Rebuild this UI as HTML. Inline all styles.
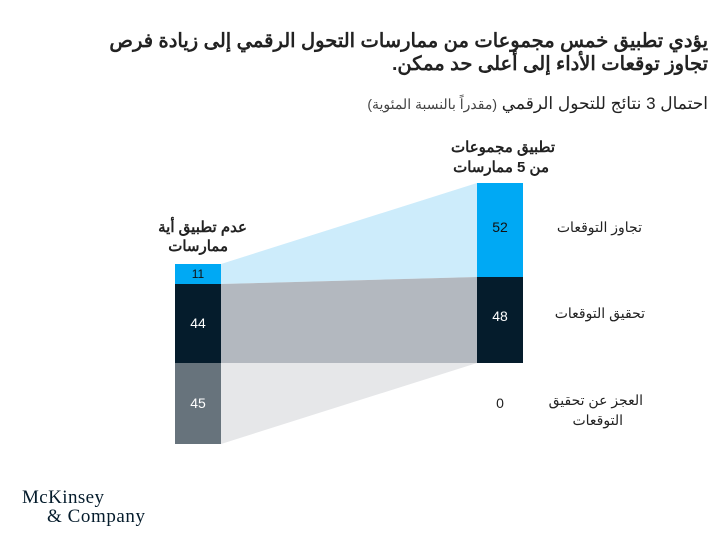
<!DOCTYPE html>
<html><head><meta charset="utf-8"><style>
body{margin:0;width:723px;height:540px;background:#fff;overflow:hidden;font-family:"Liberation Sans","Noto Sans CJK SC",sans-serif;}
svg text{font-family:"Liberation Sans","Noto Sans CJK SC",sans-serif;}
</style></head><body>
<svg width="723" height="540" xmlns="http://www.w3.org/2000/svg">
<text x="708" y="47" text-anchor="start" font-size="19.5" font-weight="bold" fill="#222" direction="rtl">يؤدي تطبيق خمس مجموعات من ممارسات التحول الرقمي إلى زيادة فرص</text>
<text x="708" y="70" text-anchor="start" font-size="19.5" font-weight="bold" fill="#222" direction="rtl">تجاوز توقعات الأداء إلى أعلى حد ممكن.</text>
<text x="708" y="109" text-anchor="start" font-size="17" fill="#222" direction="rtl">احتمال 3 نتائج للتحول الرقمي <tspan font-size="14" fill="#444">(مقدراً بالنسبة المئوية)</tspan></text>
<polygon points="221,264 477,183 477,277 221,284" fill="#cdecfb"/>
<polygon points="221,284 477,277 477,363 221,363" fill="#b3b8bf"/>
<polygon points="221,363 477,363 221,444" fill="#e6e7e9"/>
<rect x="175" y="264" width="46" height="20" fill="#00a9f4"/>
<rect x="175" y="284" width="46" height="79" fill="#051c2c"/>
<rect x="175" y="363" width="46" height="81" fill="#67737c"/>
<rect x="477" y="183" width="46" height="94" fill="#00a9f4"/>
<rect x="477" y="277" width="46" height="86" fill="#051c2c"/>
<text x="198" y="278" text-anchor="middle" font-size="12" fill="#111">11</text>
<text x="198" y="328" text-anchor="middle" font-size="14" fill="#fff">44</text>
<text x="198" y="408" text-anchor="middle" font-size="14" fill="#fff">45</text>
<text x="500" y="232" text-anchor="middle" font-size="14" fill="#111">52</text>
<text x="500" y="321" text-anchor="middle" font-size="14" fill="#fff">48</text>
<text x="500" y="408" text-anchor="middle" font-size="14" fill="#222">0</text>
<text x="247" y="232" text-anchor="start" font-size="15" font-weight="bold" fill="#222" direction="rtl">عدم تطبيق أية</text>
<text x="228" y="251" text-anchor="start" font-size="15" font-weight="bold" fill="#222" direction="rtl">ممارسات</text>
<text x="555" y="152" text-anchor="start" font-size="15" font-weight="bold" fill="#222" direction="rtl">تطبيق مجموعات</text>
<text x="549" y="172" text-anchor="start" font-size="15" font-weight="bold" fill="#222" direction="rtl">من 5 ممارسات</text>
<text x="642" y="232" text-anchor="start" font-size="14" fill="#222" direction="rtl">تجاوز التوقعات</text>
<text x="645" y="318" text-anchor="start" font-size="14" fill="#222" direction="rtl">تحقيق التوقعات</text>
<text x="643" y="405" text-anchor="start" font-size="14" fill="#222" direction="rtl">العجز عن تحقيق</text>
<text x="623" y="425" text-anchor="start" font-size="14" fill="#222" direction="rtl">التوقعات</text>
<text x="22" y="503" font-size="19" fill="#051c2c" style="font-family:'Liberation Serif',serif" textLength="82">McKinsey</text>
<text x="47" y="522" font-size="19" fill="#051c2c" style="font-family:'Liberation Serif',serif" textLength="98">&amp; Company</text>
</svg>
</body></html>
